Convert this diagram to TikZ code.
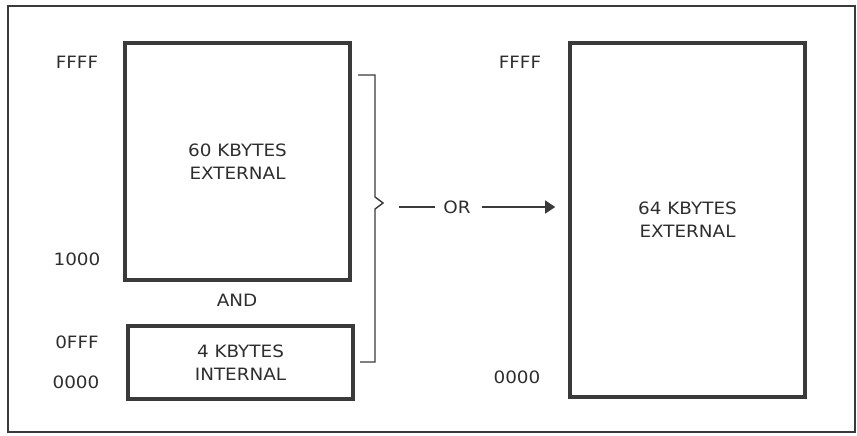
\documentclass[tikz,border=0pt]{standalone}
\usepackage{fontspec}
\setmainfont{DejaVu Sans}[FakeStretch=1.08]
\usetikzlibrary{arrows.meta}
\definecolor{ink}{HTML}{3A3A3A}
\definecolor{txt}{HTML}{2E2E2E}
\tikzset{
  membox/.style={draw=ink, line width=3.6pt, minimum width=#1, inner sep=0pt, align=center, text=txt, font=\fontsize{17}{23}\selectfont},
  addr/.style={text=txt, font=\fontsize{17}{20}\selectfont, inner sep=0pt},
  thin/.style={draw=ink, line width=1.4pt},
}
\begin{document}
\begin{tikzpicture}[x=1pt,y=-1pt]
\useasboundingbox (0,0) rectangle (857,436);
\draw[ink, line width=1.3pt] (8,6) rectangle (855,432);
% boxes
\node[membox=225pt, minimum height=237pt] (ext60) at (237.5,161.5) {60 KBYTES\\EXTERNAL};
\node[membox=225pt, minimum height=73pt] (int4) at (240.5,362.5) {4 KBYTES\\INTERNAL};
\node[membox=235pt, minimum height=354pt] (ext64) at (687.5,220) {64 KBYTES\\EXTERNAL};
% address labels
\node[addr] (lf) at (77,62) {FFFF};
\node[addr] (l1) at (77,259) {1000};
\node[addr] (l0f) at (77,342) {0FFF};
\node[addr] (l0) at (76,382) {0000};
\node[addr] (rf) at (520,62) {FFFF};
\node[addr] (r0) at (517,377) {0000};
\node[addr] (and) at (237,300) {AND};
% bracket
\coordinate (btop) at (358,75);
\coordinate (bbot) at (360,362);
\coordinate (btip) at (383,203);
\draw[thin, line join=miter] (btop) -- (375,75) -- (375,197) -- (btip) -- (375,209) -- (375,362) -- (bbot);
% OR connector
\node[addr] (or) at (457,207) {OR};
\coordinate (dashL) at (399,207);
\coordinate (dashR) at (435,207);
\draw[thin] (dashL) -- (dashR);
\coordinate (arrS) at (482,207);
\draw[thin, -{Triangle[length=10pt,width=13pt]}, shorten >=13pt] (arrS) -- (ext64.west |- arrS);
\end{tikzpicture}
\end{document}
